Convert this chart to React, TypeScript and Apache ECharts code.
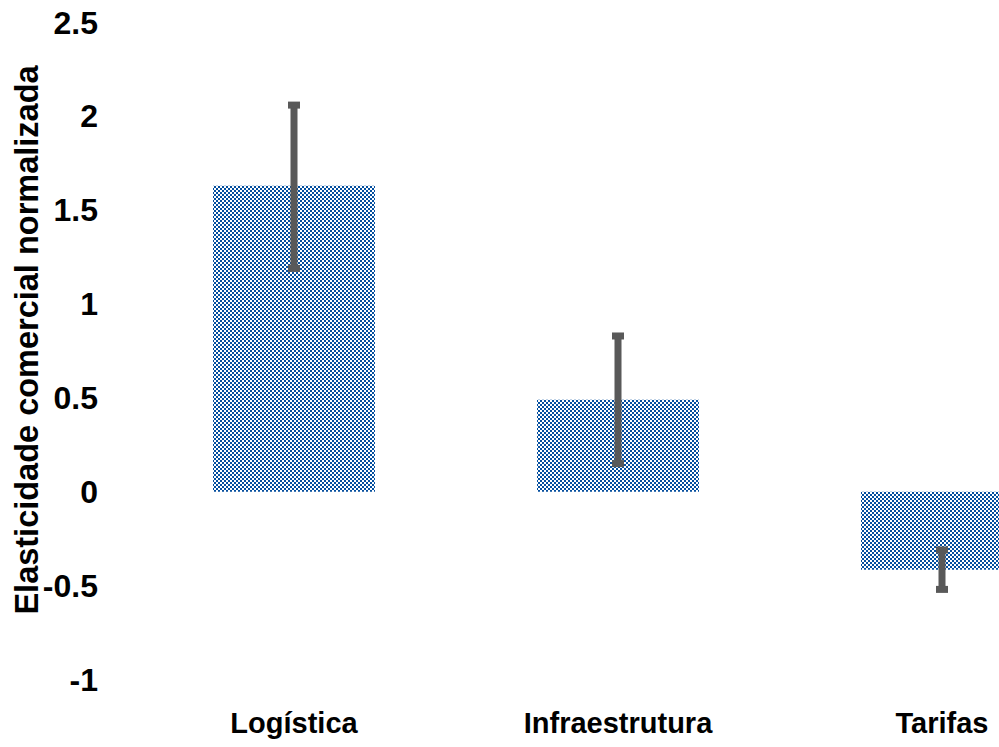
import React, { useEffect, useRef } from "react";
import * as echarts from "echarts";

const categories = ["Logística", "Infraestrutura", "Tarifas"];
const means = [1.63, 0.49, -0.415];
const errUpper = [0.43, 0.34, 0.105];
const errLower = [0.44, 0.34, 0.105];
const yTicks = { min: -1, max: 2.5, interval: 0.5 };
const yTitle = "Elasticidade comercial normalizada";

const FONT = "'Liberation Sans', Arial, sans-serif";

function makePattern() {
  const c = document.createElement("canvas");
  c.width = 4;
  c.height = 4;
  const ctx = c.getContext("2d")!;
  ctx.fillStyle = "#ffffff";
  ctx.fillRect(0, 0, 4, 4);
  ctx.fillStyle = "#044e9e";
  ctx.fillRect(0, 0, 2, 2);
  ctx.fillRect(2, 2, 2, 2);
  return { image: c, repeat: "repeat", imageWidth: 4, imageHeight: 4 } as any;
}

export default function App() {
  const ref = useRef<HTMLDivElement>(null);
  useEffect(() => {
    if (!ref.current) return;
    const chart = echarts.init(ref.current, null, { renderer: "svg" });
    const errData = means.map((m, i) => [i, m - errLower[i], m + errUpper[i]]);
    chart.setOption({
      animation: false,
      grid: { left: 132, right: 0, top: 22.5, bottom: 67.5, containLabel: false },
      xAxis: {
        type: "category",
        data: categories,
        axisLine: { show: false },
        axisTick: { show: false },
        axisLabel: {
          fontFamily: FONT,
          fontWeight: "bold",
          fontSize: 29,
          color: "#000",
          margin: 29,
        },
      },
      yAxis: {
        type: "value",
        min: yTicks.min,
        max: yTicks.max,
        interval: yTicks.interval,
        splitLine: { show: false },
        axisLine: { show: false },
        axisTick: { show: false },
        axisLabel: {
          fontFamily: FONT,
          fontWeight: "bold",
          fontSize: 32,
          color: "#000",
          margin: 34,
        },
      },
      graphic: [
        {
          type: "text",
          x: 27,
          y: 340,
          rotation: Math.PI / 2,
          style: {
            text: yTitle,
            fontFamily: FONT,
            fontWeight: "bold",
            fontSize: 32.5,
            fill: "#000",
            textAlign: "center",
            textVerticalAlign: "middle",
          },
        },
      ],
      series: [
        {
          type: "bar",
          data: means,
          barWidth: "50%",
          itemStyle: { color: makePattern() },
        },
        {
          type: "custom",
          data: errData,
          z: 10,
          renderItem: (params: any, api: any) => {
            const x = api.value(0);
            const top = api.coord([x, api.value(2)]);
            const bot = api.coord([x, api.value(1)]);
            const cx = top[0];
            const lw = 7;
            const cw = 12;
            const ch = 7;
            const color = "#595959";
            return {
              type: "group",
              children: [
                { type: "rect", shape: { x: cx - lw / 2, y: top[1], width: lw, height: bot[1] - top[1] }, style: { fill: color } },
                { type: "rect", shape: { x: cx - cw / 2, y: top[1] - ch / 2, width: cw, height: ch }, style: { fill: color } },
                { type: "rect", shape: { x: cx - cw / 2, y: bot[1] - ch / 2, width: cw, height: ch }, style: { fill: color } },
              ],
            };
          },
        },
      ],
    });
    return () => chart.dispose();
  }, []);
  return (
    <div style={{ position: "fixed", left: 0, top: 0, width: "100vw", height: "100vh", overflow: "hidden", background: "#fff" }}>
      <div ref={ref} style={{ width: 1104, height: 747 }} />
    </div>
  );
}
